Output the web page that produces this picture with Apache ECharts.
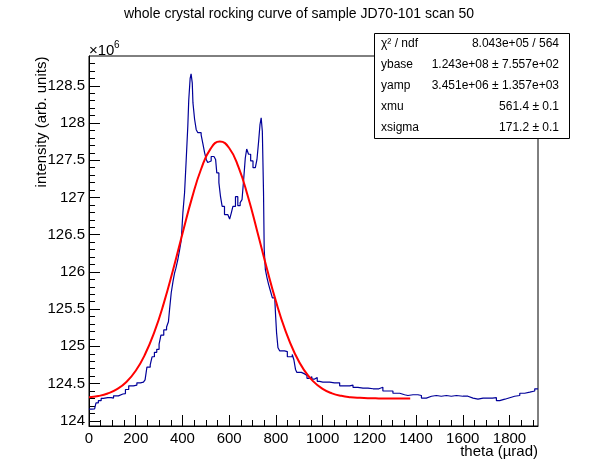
<!DOCTYPE html>
<html>
<head>
<meta charset="utf-8">
<script src="https://cdn.jsdelivr.net/npm/echarts@6/dist/echarts.min.js"></script>
<style>
  html, body { margin: 0; padding: 0; background: #fff; }
  #chart { width: 598px; height: 474px; }
</style>
</head>
<body>
<div id="chart"></div>
<script>
// measured histogram: theta (low bin edge) and intensity in units of 1e6
var theta = [0, 12, 24, 30, 40, 52, 62, 80, 95, 105, 126, 145, 156, 170, 190, 205, 220, 233, 240, 248,
  262, 270, 280, 290, 300, 308, 320, 332, 340, 345, 352, 360, 366, 372, 380, 388, 395, 402, 409, 416,
  423, 427, 433, 437, 442, 445, 452, 459, 466, 480, 487, 495, 502, 508, 513, 523, 535, 542, 547, 556,
  563, 570, 580, 594, 602, 609, 616, 627, 637, 647, 655, 662, 669, 675, 683, 692, 702, 712, 719, 726,
  732, 737, 742, 747, 750, 755, 762, 769, 777, 785, 795, 799, 803, 809, 816, 837, 849, 859, 870, 877,
  884, 890, 909, 923, 933, 944, 954, 966, 977, 987, 1001, 1009, 1030, 1051, 1073, 1094, 1116, 1130, 1151, 1173,
  1194, 1216, 1241, 1258, 1280, 1301, 1330, 1351, 1365, 1387, 1408, 1423, 1444, 1466, 1487, 1508, 1530, 1551, 1573, 1601,
  1622, 1644, 1665, 1687, 1708, 1727, 1744, 1758, 1780, 1801, 1822, 1844, 1865, 1887, 1908, 1922];
var intensity = [124.157, 124.16, 124.185, 124.24, 124.27, 124.30, 124.31, 124.31, 124.305, 124.335, 124.36, 124.365, 124.42, 124.47, 124.48, 124.51, 124.52, 124.53, 124.55, 124.72,
  124.75, 124.86, 124.92, 124.96, 125.03, 125.15, 125.22, 125.26, 125.33, 125.5, 125.72, 125.88, 125.98, 126.05, 126.16, 126.3, 126.43, 126.8, 127.06, 127.5,
  127.96, 128.31, 128.6, 128.66, 128.54, 128.27, 128.05, 127.91, 127.87, 127.84, 127.73, 127.6, 127.51, 127.47, 127.49, 127.55, 127.57, 127.51, 127.33, 127.2,
  127.01, 126.88, 126.77, 126.75, 126.71, 126.79, 126.88, 127.01, 126.89, 126.93, 126.97, 127.24, 127.53, 127.65, 127.58, 127.49, 127.40, 127.40, 127.51, 127.75,
  127.98, 128.07, 127.89, 127.08, 126.30, 126.03, 125.92, 125.83, 125.74, 125.65, 125.63, 125.40, 125.18, 124.98, 124.94, 124.93, 124.86, 124.86, 124.89, 124.82,
  124.69, 124.65, 124.63, 124.61, 124.57, 124.59, 124.56, 124.58, 124.53, 124.52, 124.53, 124.52, 124.51, 124.51, 124.47, 124.47, 124.48, 124.45, 124.44, 124.44,
  124.43, 124.43, 124.45, 124.40, 124.40, 124.37, 124.35, 124.34, 124.35, 124.35, 124.34, 124.305, 124.33, 124.34, 124.33, 124.34, 124.33, 124.34, 124.33, 124.33,
  124.305, 124.29, 124.305, 124.305, 124.305, 124.31, 124.27, 124.29, 124.31, 124.33, 124.34, 124.37, 124.385, 124.40, 124.43, 124.43];

// gaussian fit curve
var fitTheta = [0, 40, 80, 120, 160, 200, 240, 280, 320, 360, 400, 440, 480, 520, 560, 600, 640, 680, 720, 760,
  800, 840, 880, 920, 960, 1000, 1040, 1080, 1120, 1160, 1200, 1240, 1280, 1320, 1375];
var fitValue = [124.316, 124.333, 124.366, 124.424, 124.521, 124.672, 124.893, 125.194, 125.577, 126.028, 126.513, 126.984, 127.382, 127.652, 127.751, 127.664, 127.406, 127.015, 126.547, 126.061,
  125.607, 125.218, 124.911, 124.684, 124.529, 124.429, 124.369, 124.335, 124.317, 124.308, 124.303, 124.301, 124.300, 124.300, 124.300];

var xMajor = [0, 200, 400, 600, 800, 1000, 1200, 1400, 1600, 1800];
var yMajor = [124, 124.5, 125, 125.5, 126, 126.5, 127, 127.5, 128, 128.5];

var statNames = ['\u03c7\u00b2 / ndf', 'ybase', 'yamp', 'xmu', 'xsigma'];
var statValues = ['8.043e+05 / 564', '1.243e+08 \u00b1 7.557e+02', '3.451e+06 \u00b1 1.357e+03', '561.4 \u00b1 0.1', '171.2 \u00b1 0.1'];

var xMinor = [];
for (var i = 0; i <= 1900; i += 50) xMinor.push(i);
var yMinor = [];
for (var j = 1240; j <= 1288; j++) yMinor.push(j / 10);

var histData = theta.map(function (t, k) { return [t, intensity[k]]; });
var fitData = fitTheta.map(function (t, k) { return [t, fitValue[k]]; });

var font = 'Liberation Sans, Arial, Helvetica, sans-serif';
var xMin = 0, xMax = 1922, yMin = 123.93, yMax = 128.9;

var statGraphics = [{
  type: 'rect', z: 100,
  shape: { x: 374.5, y: 33.5, width: 195, height: 105 },
  style: { fill: '#fff', stroke: '#000', lineWidth: 1 }
}];
statNames.forEach(function (n, k) {
  statGraphics.push({
    type: 'text', z: 101, x: 381, y: 44 + k * 21,
    style: { text: n, font: '12px ' + font, fill: '#000', textAlign: 'left', textVerticalAlign: 'middle' }
  });
  statGraphics.push({
    type: 'text', z: 101, x: 559, y: 44 + k * 21,
    style: { text: statValues[k], font: '12px ' + font, fill: '#000', textAlign: 'right', textVerticalAlign: 'middle' }
  });
});

var chart = echarts.init(document.getElementById('chart'));
var option = {
  backgroundColor: '#fff',
  animation: false,
  title: {
    text: 'whole crystal rocking curve of sample JD70-101 scan 50',
    left: 'center',
    top: 2,
    textStyle: { fontFamily: font, fontSize: 14, fontWeight: 'normal', color: '#000' }
  },
  grid: {
    left: 89, top: 56, right: 60, bottom: 48,
    show: true, borderColor: '#000', borderWidth: 1, backgroundColor: 'transparent'
  },
  xAxis: [{
    type: 'value', min: xMin, max: xMax, position: 'bottom',
    axisLine: { show: true, onZero: false, lineStyle: { color: '#000', width: 1 } },
    axisTick: { show: true, inside: true, length: 11, customValues: xMajor, lineStyle: { color: '#000' } },
    axisLabel: {
      customValues: xMajor, margin: 5, color: '#000', fontFamily: font, fontSize: 15,
      formatter: function (v) { return String(v); }
    },
    splitLine: { show: false }
  }, {
    type: 'value', min: xMin, max: xMax, position: 'bottom',
    axisLine: { show: false, onZero: false },
    axisTick: { show: true, inside: true, length: 6, customValues: xMinor, lineStyle: { color: '#000' } },
    axisLabel: { show: false },
    splitLine: { show: false }
  }],
  yAxis: [{
    type: 'value', min: yMin, max: yMax, position: 'left',
    axisLine: { show: true, onZero: false, lineStyle: { color: '#000', width: 1 } },
    axisTick: { show: true, inside: true, length: 11, customValues: yMajor, lineStyle: { color: '#000' } },
    axisLabel: {
      customValues: yMajor, margin: 4, color: '#000', fontFamily: font, fontSize: 15,
      formatter: function (v) { return String(Math.round(v * 10) / 10); }
    },
    splitLine: { show: false }
  }, {
    type: 'value', min: yMin, max: yMax, position: 'left',
    axisLine: { show: false, onZero: false },
    axisTick: { show: true, inside: true, length: 6, customValues: yMinor, lineStyle: { color: '#000' } },
    axisLabel: { show: false },
    splitLine: { show: false }
  }],
  graphic: [{
    type: 'text', x: 42, y: 122, rotation: Math.PI / 2,
    style: { text: 'intensity (arb. units)', font: '15px ' + font, fill: '#000', textAlign: 'center', textVerticalAlign: 'middle' }
  }, {
    type: 'text', x: 538, y: 452,
    style: { text: 'theta (\u00b5rad)', font: '15px ' + font, fill: '#000', textAlign: 'right', textVerticalAlign: 'middle' }
  }, {
    type: 'text', x: 89, y: 51,
    style: { text: '\u00d710', font: '15px ' + font, fill: '#000', textAlign: 'left', textVerticalAlign: 'middle' }
  }, {
    type: 'text', x: 114, y: 45,
    style: { text: '6', font: '10px ' + font, fill: '#000', textAlign: 'left', textVerticalAlign: 'middle' }
  }].concat(statGraphics),
  series: [{
    name: 'data', type: 'line', step: 'end', data: histData,
    showSymbol: false, clip: true,
    lineStyle: { color: '#000099', width: 1.2 },
    z: 2
  }, {
    name: 'fit', type: 'line', smooth: true, data: fitData,
    showSymbol: false, clip: true,
    lineStyle: { color: '#ff0000', width: 2 },
    z: 3
  }]
};
chart.setOption(option);
</script>
</body>
</html>
